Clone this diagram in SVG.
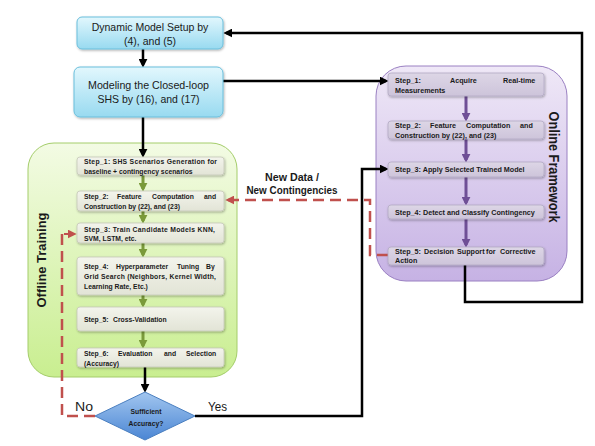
<svg xmlns="http://www.w3.org/2000/svg" width="595" height="446" viewBox="0 0 595 446">
<style>
.top{font-family:"Liberation Sans",Arial,sans-serif;font-size:10.5px;fill:#1a1a1a;text-anchor:middle}
.st{font-family:"Liberation Sans",Arial,sans-serif;font-weight:bold;font-size:6.8px;fill:#1a1a1a}
.so{font-family:"Liberation Sans",Arial,sans-serif;font-weight:bold;font-size:7.2px;fill:#1a1a1a}
.lbl{font-family:"Liberation Sans",Arial,sans-serif;font-weight:bold;fill:#1a1a1a}
.yn{font-family:"Liberation Sans",Arial,sans-serif;font-size:13px;fill:#1a1a1a}
.ob{fill:url(#gOff);stroke:#c5c8b8;stroke-width:0.8}
.pb{fill:url(#gOn);stroke:#b3a9c4;stroke-width:0.8}
.blk{fill:none;stroke:#000;stroke-width:2.5}
.grn{fill:none;stroke:#7a9a3a;stroke-width:3}
.pur{fill:none;stroke:#6f4f96;stroke-width:3}
.red{fill:none;stroke:#c0504d;stroke-width:2.5;stroke-dasharray:11,6}
</style>
<defs>
<linearGradient id="gBlue" x1="0" y1="0" x2="0" y2="1"><stop offset="0" stop-color="#e2f7fd"/><stop offset="1" stop-color="#98daf0"/></linearGradient>
<linearGradient id="gGreen" x1="0" y1="0" x2="0" y2="1"><stop offset="0" stop-color="#f3fbe4"/><stop offset="1" stop-color="#c9ee90"/></linearGradient>
<linearGradient id="gPurple" x1="0" y1="0" x2="0" y2="1"><stop offset="0" stop-color="#efe8f7"/><stop offset="1" stop-color="#c6b2e4"/></linearGradient>
<linearGradient id="gOff" x1="0" y1="0" x2="0" y2="1"><stop offset="0" stop-color="#f3f4ec"/><stop offset="1" stop-color="#e2e4d6"/></linearGradient>
<linearGradient id="gOn" x1="0" y1="0" x2="0" y2="1"><stop offset="0" stop-color="#ddd6e6"/><stop offset="1" stop-color="#cdc4da"/></linearGradient>
<linearGradient id="gDia" x1="0" y1="0" x2="0" y2="1"><stop offset="0" stop-color="#a2c6ef"/><stop offset="1" stop-color="#4b86d4"/></linearGradient>
<filter id="sh" x="-10%" y="-10%" width="120%" height="140%"><feDropShadow dx="0.8" dy="1.2" stdDeviation="0.8" flood-color="#000" flood-opacity="0.3"/></filter>
<marker id="mB" viewBox="0 0 10 10" refX="7" refY="5" markerWidth="9" markerHeight="9" markerUnits="userSpaceOnUse" orient="auto"><path d="M0,0 L10,5 L0,10 z" fill="#000"/></marker>
<marker id="mG" viewBox="0 0 10 10" refX="7" refY="5" markerWidth="9" markerHeight="9" markerUnits="userSpaceOnUse" orient="auto"><path d="M0,0 L10,5 L0,10 z" fill="#7a9a3a"/></marker>
<marker id="mP" viewBox="0 0 10 10" refX="7" refY="5" markerWidth="9" markerHeight="9" markerUnits="userSpaceOnUse" orient="auto"><path d="M0,0 L10,5 L0,10 z" fill="#6f4f96"/></marker>
<marker id="mR" viewBox="0 0 10 10" refX="7" refY="5" markerWidth="9" markerHeight="9" markerUnits="userSpaceOnUse" orient="auto"><path d="M0,0 L10,5 L0,10 z" fill="#c0504d"/></marker>
</defs>

<g id="offline-region">
<rect x="28" y="143" width="209" height="234" rx="26" fill="url(#gGreen)" stroke="#a4cd6a" stroke-width="1"/>
<text class="lbl" font-size="13" transform="translate(46,260) rotate(-90)" text-anchor="middle" textLength="95" lengthAdjust="spacingAndGlyphs">Offline Training</text>
</g>
<g id="online-region">
<rect x="376" y="66" width="191" height="215" rx="30" fill="url(#gPurple)" stroke="#9a80c2" stroke-width="1"/>
<text class="lbl" font-size="14" transform="translate(549,167) rotate(90)" text-anchor="middle" textLength="111" lengthAdjust="spacingAndGlyphs">Online Framework</text>
</g>

<g id="connectors">
<path class="blk" d="M143,49 V65" marker-end="url(#mB)"/>
<path class="blk" d="M143,117 V155" marker-end="url(#mB)"/>
<path class="blk" d="M223,81 H386" marker-end="url(#mB)"/>
<path class="blk" d="M465,265 V302 H582 V33 H226" marker-end="url(#mB)"/>
<path class="blk" d="M145,367 V390" marker-end="url(#mB)"/>
<path class="blk" d="M195,416 H362 V169 H386" marker-end="url(#mB)"/>
<path class="grn" d="M143,175 V189" marker-end="url(#mG)"/>
<path class="grn" d="M143,211 V221" marker-end="url(#mG)"/>
<path class="grn" d="M143,243 V255" marker-end="url(#mG)"/>
<path class="grn" d="M143,295 V305" marker-end="url(#mG)"/>
<path class="grn" d="M143,331 V346" marker-end="url(#mG)"/>
<path class="pur" d="M466,96 V119" marker-end="url(#mP)"/>
<path class="pur" d="M466,139 V160" marker-end="url(#mP)"/>
<path class="pur" d="M466,177 V203" marker-end="url(#mP)"/>
<path class="pur" d="M466,219 V245" marker-end="url(#mP)"/>
<path class="red" d="M388,255 H370 V200 H228" marker-end="url(#mR)"/>
<path class="red" d="M95,416 H62 V229"/>
<path d="M64,234 H74" fill="none" stroke="#c0504d" stroke-width="2" marker-end="url(#mR)"/>
<text class="lbl" font-size="10.5" x="292" y="181" text-anchor="middle" fill="#333" textLength="54" lengthAdjust="spacingAndGlyphs">New Data /</text>
<text class="lbl" font-size="10.5" x="292" y="194" text-anchor="middle" fill="#333" textLength="91" lengthAdjust="spacingAndGlyphs">New Contingencies</text>
<text class="yn" x="75" y="411" textLength="18" lengthAdjust="spacingAndGlyphs">No</text>
<text class="yn" x="208" y="411" textLength="19" lengthAdjust="spacingAndGlyphs">Yes</text>
</g>

<g id="dynamic-model">
<rect x="77" y="17" width="146" height="32" rx="5" fill="url(#gBlue)" stroke="#6bbfdc" stroke-width="1" filter="url(#sh)"/>
<text class="top" x="150" y="31">Dynamic Model Setup by</text>
<text class="top" x="150" y="45">(4), and (5)</text>
</g>
<g id="closed-loop">
<rect x="74" y="67" width="149" height="50" rx="6" fill="url(#gBlue)" stroke="#6bbfdc" stroke-width="1" filter="url(#sh)"/>
<text class="top" x="148.5" y="89" textLength="121" lengthAdjust="spacingAndGlyphs">Modeling the Closed-loop</text>
<text class="top" x="148.5" y="103">SHS by (16), and (17)</text>
</g>

<g id="off-step1">
<rect class="ob" x="77" y="157" width="147" height="18" rx="3" filter="url(#sh)"/>
<text class="st" x="84" y="164" textLength="133" lengthAdjust="spacing">Step_1: SHS Scenarios Generation for</text>
<text class="st" x="84" y="174">baseline + contingency scenarios</text>
</g>
<g id="off-step2">
<rect class="ob" x="77" y="191" width="147" height="20" rx="3" filter="url(#sh)"/>
<text class="st" y="198.5"><tspan x="84">Step_2:</tspan><tspan x="117">Feature</tspan><tspan x="152">Computation</tspan><tspan x="204">and</tspan></text>
<text class="st" x="84" y="208.5">Construction by (22), and (23)</text>
</g>
<g id="off-step3">
<rect class="ob" x="77" y="223" width="147" height="20" rx="3" filter="url(#sh)"/>
<text class="st" x="84" y="231.5" textLength="131" lengthAdjust="spacing">Step_3: Train Candidate Models KNN,</text>
<text class="st" x="84" y="241">SVM, LSTM, etc.</text>
</g>
<g id="off-step4">
<rect class="ob" x="77" y="257" width="147" height="38" rx="3" filter="url(#sh)"/>
<text class="st" y="269"><tspan x="84">Step_4:</tspan><tspan x="116">Hyperparameter</tspan><tspan x="177">Tuning</tspan><tspan x="206">By</tspan></text>
<text class="st" x="84" y="279" textLength="132" lengthAdjust="spacing">Grid Search (Neighbors, Kernel Width,</text>
<text class="st" x="84" y="289">Learning Rate, Etc.)</text>
</g>
<g id="off-step5">
<rect class="ob" x="77" y="307" width="147" height="24" rx="3" filter="url(#sh)"/>
<text class="st" y="322"><tspan x="84">Step_5:</tspan><tspan x="113">Cross-Validation</tspan></text>
</g>
<g id="off-step6">
<rect class="ob" x="77" y="348" width="147" height="19" rx="3" filter="url(#sh)"/>
<text class="st" y="356"><tspan x="84">Step_6:</tspan><tspan x="118">Evaluation</tspan><tspan x="164">and</tspan><tspan x="186">Selection</tspan></text>
<text class="st" x="84" y="365.5">(Accuracy)</text>
</g>

<g id="decision">
<polygon points="145,392 195,416 145,440 95,416" fill="url(#gDia)" stroke="#4a7fc0" stroke-width="1"/>
<text class="st" x="146" y="414" text-anchor="middle" fill="#1c2a40" font-size="6.5">Sufficient</text>
<text class="st" x="146" y="425.5" text-anchor="middle" fill="#1c2a40" font-size="6.5">Accuracy?</text>
</g>

<g id="on-step1">
<rect class="pb" x="388" y="73" width="156" height="23" rx="3" filter="url(#sh)"/>
<text class="so" y="83"><tspan x="395">Step_1:</tspan><tspan x="450">Acquire</tspan><tspan x="503">Real-time</tspan></text>
<text class="so" x="395" y="93">Measurements</text>
</g>
<g id="on-step2">
<rect class="pb" x="388" y="121" width="156" height="18" rx="3" filter="url(#sh)"/>
<text class="so" y="127.5"><tspan x="395">Step_2:</tspan><tspan x="430">Feature</tspan><tspan x="466">Computation</tspan><tspan x="520">and</tspan></text>
<text class="so" x="395" y="137.5">Construction by (22), and (23)</text>
</g>
<g id="on-step3">
<rect class="pb" x="388" y="162" width="156" height="15" rx="3" filter="url(#sh)"/>
<text class="so" x="395" y="172">Step_3: Apply Selected Trained Model</text>
</g>
<g id="on-step4">
<rect class="pb" x="388" y="205" width="156" height="14" rx="3" filter="url(#sh)"/>
<text class="so" x="395" y="214.5">Step_4: Detect and Classify Contingency</text>
</g>
<g id="on-step5">
<rect class="pb" x="388" y="247" width="156" height="18" rx="3" filter="url(#sh)"/>
<text class="so" y="253.5"><tspan x="395">Step_5:</tspan><tspan x="424">Decision</tspan><tspan x="457">Support</tspan><tspan x="486">for</tspan><tspan x="500">Corrective</tspan></text>
<text class="so" x="395" y="263">Action</text>
</g>
</svg>
